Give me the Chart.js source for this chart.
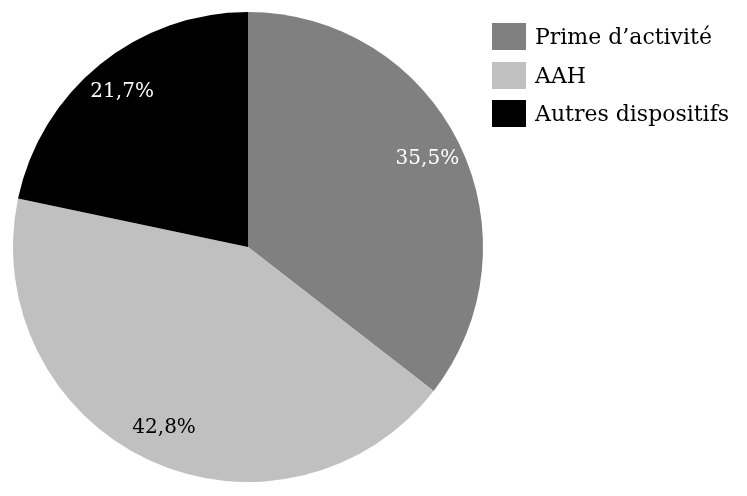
<!DOCTYPE html>
<html>
<head>
<meta charset="utf-8">
<script src="https://cdn.jsdelivr.net/npm/chart.js@4/dist/chart.umd.min.js"></script>
<style>
  html, body { margin: 0; padding: 0; background: #fff; }
  #wrap { position: relative; width: 747px; height: 496px; }
  #legend { position: absolute; left: 492px; top: 23px; font-family: 'DejaVu Serif', serif; font-size: 22px; color: #000; }
  .lg-row { display: flex; align-items: center; height: 27px; margin-bottom: 11.7px; white-space: nowrap; }
  .lg-box { width: 34px; height: 27px; margin-right: 9px; }
</style>
</head>
<body>
<div id="wrap">
  <canvas id="pie" width="747" height="496"></canvas>
  <div id="legend"></div>
</div>
<script>
// Data
const categories = ['Prime d\u2019activité', 'AAH', 'Autres dispositifs'];
const shares = [35.5, 42.8, 21.7];
const colors = ['#808080', '#c0c0c0', '#000000'];
const labelColors = ['#ffffff', '#000000', '#ffffff'];

// Legend (HTML)
const legendEl = document.getElementById('legend');
legendEl.innerHTML = categories.map((c, i) => `
  <div class="lg-row"><div class="lg-box" style="background:${colors[i]}"></div><span>${c}</span></div>
`).join('');

// Percent labels inside slices
const sliceLabels = {
  id: 'sliceLabels',
  afterDatasetsDraw(chart) {
    const { ctx } = chart;
    const meta = chart.getDatasetMeta(0);
    ctx.save();
    ctx.font = "20px 'DejaVu Serif', serif";
    ctx.textAlign = 'center';
    ctx.textBaseline = 'middle';
    meta.data.forEach((arc, i) => {
      const { x, y, startAngle, endAngle, outerRadius } = arc.getProps(['x', 'y', 'startAngle', 'endAngle', 'outerRadius'], true);
      const mid = (startAngle + endAngle) / 2;
      const r = outerRadius * 0.85;
      ctx.fillStyle = labelColors[i];
      ctx.fillText(shares[i].toFixed(1).replace('.', ',') + '%', x + Math.cos(mid) * r, y + Math.sin(mid) * r);
    });
    ctx.restore();
  }
};

new Chart(document.getElementById('pie').getContext('2d'), {
  type: 'pie',
  data: {
    labels: categories,
    datasets: [{
      data: shares,
      backgroundColor: colors,
      borderWidth: 0
    }]
  },
  options: {
    responsive: false,
    animation: false,
    layout: { padding: { left: 13, right: 264, top: 12, bottom: 14 } },
    plugins: { legend: { display: false }, tooltip: { enabled: false } }
  },
  plugins: [sliceLabels]
});
</script>
</body>
</html>
